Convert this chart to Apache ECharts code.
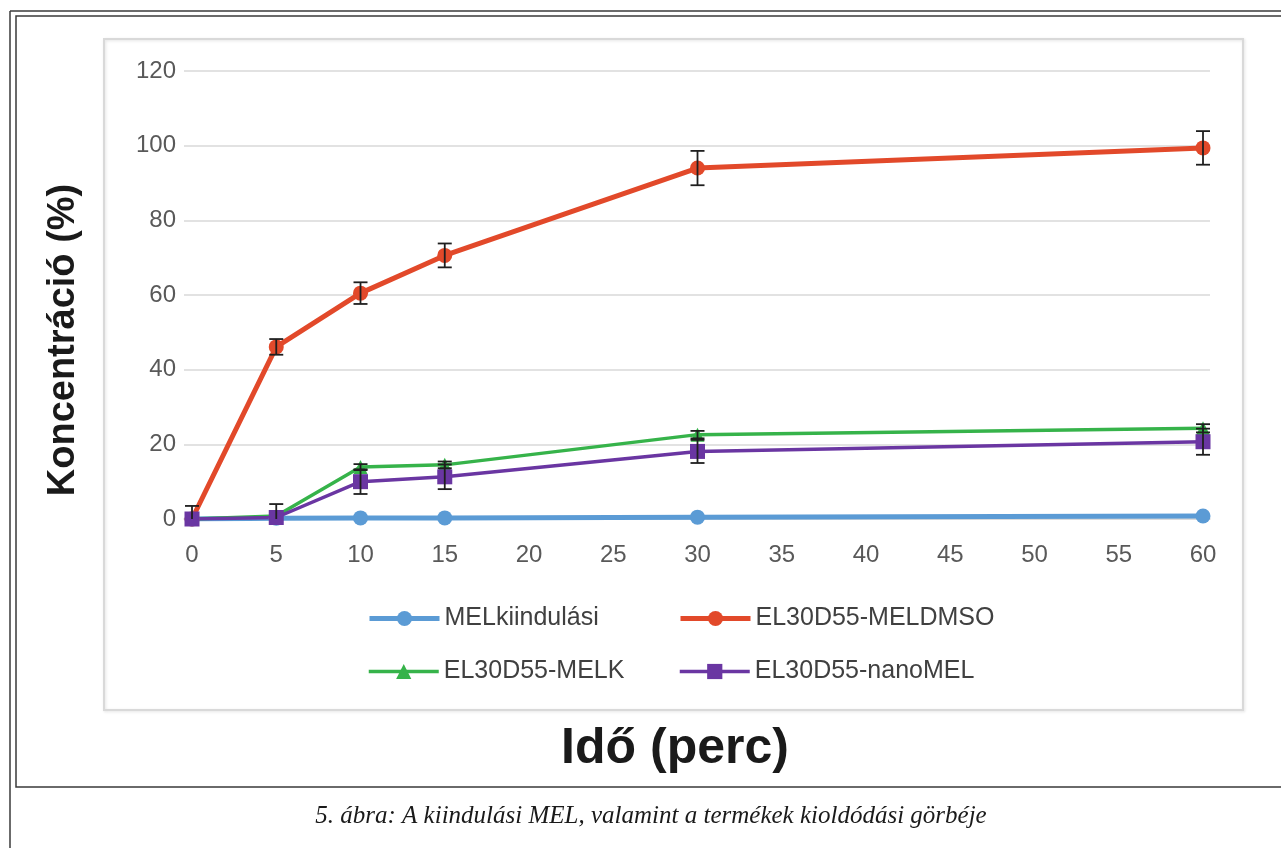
<!DOCTYPE html>
<html><head><meta charset="utf-8">
<script src="https://cdn.jsdelivr.net/npm/echarts@6/dist/echarts.min.js"></script>
<style>html,body{margin:0;padding:0;background:#fff}#c{width:1281px;height:848px}</style>
</head><body><div id="c"></div>
<script>
// ---- data ----
const times = [0, 5, 10, 15, 30, 60];
const xTickLabels = [0, 5, 10, 15, 20, 25, 30, 35, 40, 45, 50, 55, 60];
const yTickLabels = [0, 20, 40, 60, 80, 100, 120];
const seriesNames = ['MELkiindulási', 'EL30D55-MELDMSO', 'EL30D55-MELK', 'EL30D55-nanoMEL'];
const melKiindulasi = [0, 0.2, 0.3, 0.3, 0.5, 0.8];
const melDmso = [0, 46.1, 60.5, 70.6, 94.0, 99.4];
const melK = [0, 0.8, 13.9, 14.5, 22.6, 24.3];
const nanoMel = [0, 0.4, 10.0, 11.3, 18.1, 20.7];
const errMelDmso = [0, 2.1, 2.9, 3.2, 4.6, 4.5];
const errMelK = [0, 0, 0.8, 0.9, 1.0, 1.1];
const errNanoMel = [3.5, 3.6, 3.3, 3.3, 3.1, 3.5];
const colors = ['#5B9BD5', '#E2492A', '#36B34A', '#6A36A2'];
const captionText = '5. ábra: A kiindulási MEL, valamint a termékek kioldódási görbéje';
const xTitle = 'Idő (perc)';
const yTitle = 'Koncentráció (%)';

// ---- helpers ----
const pairs = (ys) => times.map((t, i) => [t, ys[i]]);
const errTriples = (ys, es) => times.map((t, i) => [t, ys[i], es[i]]);
const FONT = '"Liberation Sans", Arial, sans-serif';

function renderErr(params, api) {
  const x = api.value(0), y = api.value(1), e = api.value(2);
  if (!e) return null;
  const top = api.coord([x, y + e]);
  const bot = api.coord([x, y - e]);
  const cap = 7;
  const style = { stroke: '#1f1f1f', lineWidth: 1.8 };
  return {
    type: 'group',
    children: [
      { type: 'line', shape: { x1: top[0], y1: top[1], x2: bot[0], y2: bot[1] }, style },
      { type: 'line', shape: { x1: top[0] - cap, y1: top[1], x2: top[0] + cap, y2: top[1] }, style },
      { type: 'line', shape: { x1: bot[0] - cap, y1: bot[1], x2: bot[0] + cap, y2: bot[1] }, style }
    ]
  };
}

function lineSeries(name, ys, color, symbol, size, width) {
  return {
    name, type: 'line', data: pairs(ys), symbol, symbolSize: size,
    lineStyle: { color, width }, itemStyle: { color },
    showSymbol: true, z: 3
  };
}
function errSeries(name, ys, es) {
  return {
    name, type: 'custom', data: errTriples(ys, es), renderItem: renderErr,
    encode: { x: 0, y: 1 }, clip: true, z: 5, silent: true
  };
}
function legendAt(name, left, top, lw) {
  return {
    data: [name], left, top, itemWidth: 70, itemHeight: 19, itemGap: 0, padding: 0,
    lineStyle: { width: lw },
    textStyle: { fontSize: 25, color: '#404040', fontFamily: FONT },
    selectedMode: false
  };
}

const chart = echarts.init(document.getElementById('c'), null, { renderer: 'canvas' });
chart.setOption({
  animation: false,
  backgroundColor: '#fff',
  grid: { left: 184, right: 71, top: 71, bottom: 329, containLabel: false },
  xAxis: {
    type: 'value', min: -0.475, max: 60.415,
    axisLine: { show: true, lineStyle: { color: '#d9d9d9', width: 1.5 } },
    axisTick: { show: false },
    splitLine: { show: false },
    axisLabel: { customValues: xTickLabels, color: '#595959', fontSize: 24, fontFamily: FONT, margin: 24 }
  },
  yAxis: {
    type: 'value', min: 0, max: 120, interval: 20,
    axisLine: { show: false }, axisTick: { show: false },
    splitLine: { lineStyle: { color: '#d9d9d9', width: 1.5 } },
    axisLabel: { color: '#595959', fontSize: 24, fontFamily: FONT, margin: 8,
      formatter: (v) => yTickLabels.includes(v) ? String(v) : '' }
  },
  legend: [
    legendAt(seriesNames[0], 367, 606, 5),
    legendAt(seriesNames[1], 678, 606, 5),
    legendAt(seriesNames[2], 367, 659, 3.5),
    legendAt(seriesNames[3], 678, 659, 3.5)
  ],
  series: [
    lineSeries(seriesNames[0], melKiindulasi, colors[0], 'circle', 15, 5),
    lineSeries(seriesNames[1], melDmso, colors[1], 'circle', 15, 5),
    lineSeries(seriesNames[2], melK, colors[2], 'triangle', 14, 3.5),
    lineSeries(seriesNames[3], nanoMel, colors[3], 'rect', 15, 3.5),
    errSeries('err1', melDmso, errMelDmso),
    errSeries('err2', melK, errMelK),
    errSeries('err3', nanoMel, errNanoMel)
  ],
  graphic: [
    { type: 'line', shape: { x1: 10, y1: 11, x2: 1290, y2: 11 }, style: { stroke: '#3a3a3a', lineWidth: 1.5 }, silent: true },
    { type: 'line', shape: { x1: 10, y1: 11, x2: 10, y2: 860 }, style: { stroke: '#3a3a3a', lineWidth: 1.5 }, silent: true },
    { type: 'rect', shape: { x: 16, y: 16, width: 1300, height: 771 }, style: { fill: 'none', stroke: '#3a3a3a', lineWidth: 1.5 }, silent: true },
    { type: 'rect', shape: { x: 104, y: 39, width: 1139, height: 671 },
      style: { fill: 'none', stroke: '#d9d9d9', lineWidth: 2, shadowBlur: 3, shadowColor: 'rgba(0,0,0,0.12)', shadowOffsetX: 1, shadowOffsetY: 1 }, silent: true },
    { type: 'text', x: 675, y: 749, style: { text: xTitle, font: 'bold 50px "Liberation Sans", Arial, sans-serif', fill: '#1a1a1a', align: 'center', verticalAlign: 'middle' }, silent: true },
    { type: 'text', x: 64, y: 340, rotation: Math.PI / 2, style: { text: yTitle, font: 'bold 38px "Liberation Sans", Arial, sans-serif', fill: '#1a1a1a', align: 'center', verticalAlign: 'middle' }, silent: true },
    { type: 'text', x: 651, y: 816, style: { text: captionText, font: 'italic 25px "Liberation Serif", "DejaVu Serif", serif', fill: '#1a1a1a', align: 'center', verticalAlign: 'middle' }, silent: true }
  ]
});
</script>
</body></html>
